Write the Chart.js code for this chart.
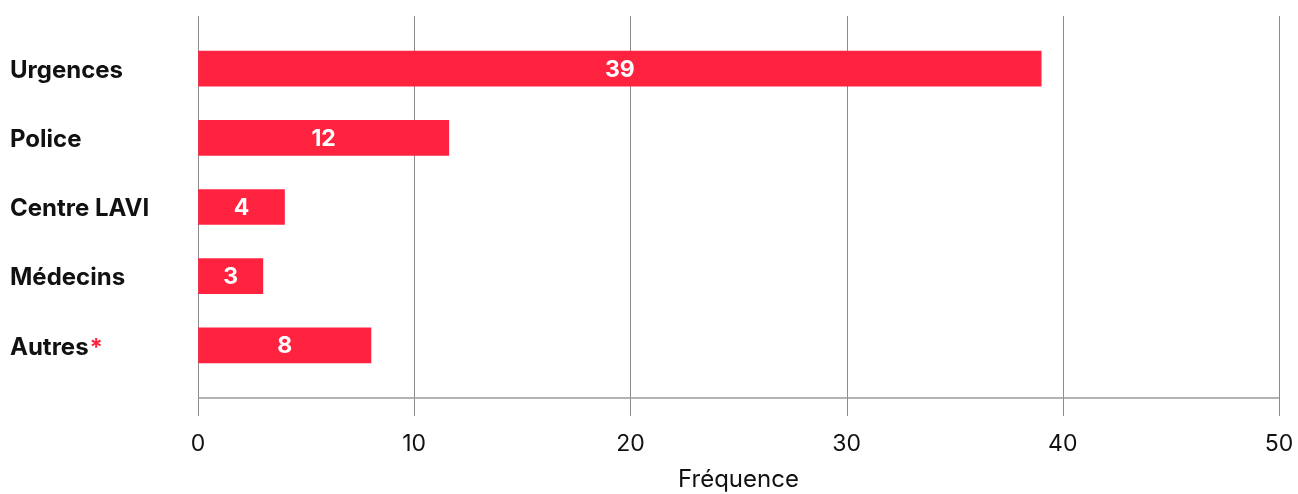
<!DOCTYPE html>
<html>
<head>
<meta charset="utf-8">
<script src="https://cdn.jsdelivr.net/npm/chart.js@4.4.1/dist/chart.umd.min.js"></script>
<style>
  html, body { margin: 0; padding: 0; background: #fff; }
  #wrap { width: 1298px; height: 494px; }
</style>
</head>
<body>
<div id="wrap"><canvas id="chart" width="1298" height="494"></canvas></div>
<script>
const categories = ["Urgences", "Police", "Centre LAVI", "Médecins", "Autres"];
const frequencies = [39, 11.6, 4, 3, 8];
const xTicks = [0, 10, 20, 30, 40, 50];
const starred = ["Autres"];

const RED = "#ff2340";
const GRID = "#8c8c8c";
const FONT = "Inter, 'Noto Sans', sans-serif";

// grille verticale + ligne d'axe, plus longues que la zone du graphique
const gridPlugin = {
  id: "grid",
  beforeDatasetsDraw(chart) {
    const { ctx, chartArea, scales } = chart;
    const x = scales.x;
    ctx.save();
    ctx.strokeStyle = GRID;
    ctx.lineWidth = 1;
    xTicks.forEach(v => {
      const px = Math.round(x.getPixelForValue(v)) + 0.5;
      ctx.beginPath();
      ctx.moveTo(px, chartArea.top - 18);
      ctx.lineTo(px, chartArea.bottom + 36);
      ctx.stroke();
    });
    ctx.strokeStyle = "#9a9a9a";
    ctx.lineWidth = 1.5;
    const ay = chartArea.bottom + 18;
    ctx.beginPath();
    ctx.moveTo(x.getPixelForValue(0), ay);
    ctx.lineTo(x.getPixelForValue(50), ay);
    ctx.stroke();
    ctx.restore();
  }
};

// valeurs dans les barres + astérisque rouge
const labelPlugin = {
  id: "labels",
  afterDatasetsDraw(chart) {
    const { ctx, scales } = chart;
    const meta = chart.getDatasetMeta(0);
    ctx.save();
    ctx.font = "bold 23px " + FONT;
    ctx.fillStyle = "#fff";
    ctx.textAlign = "center";
    ctx.textBaseline = "middle";
    meta.data.forEach((bar, i) => {
      const cx = (bar.base + bar.x) / 2;
      ctx.fillText(String(Math.round(frequencies[i])), cx, bar.y + 1);
    });
    const y = scales.y;
    ctx.font = "bold 24px " + FONT;
    ctx.textAlign = "left";
    ctx.fillStyle = RED;
    categories.forEach((c, i) => {
      if (!starred.includes(c)) return;
      const w = ctx.measureText(c).width;
      ctx.fillText("*", 10 + w + 1, y.getPixelForTick(i) + 3);
    });
    ctx.restore();
  }
};

new Chart(document.getElementById("chart"), {
  type: "bar",
  data: {
    labels: categories,
    datasets: [{
      data: frequencies,
      backgroundColor: RED,
      borderWidth: 0,
      barThickness: 35
    }]
  },
  options: {
    indexAxis: "y",
    responsive: false,
    animation: false,
    layout: { padding: { left: 10, right: 19, top: 34, bottom: 0 } },
    plugins: { legend: { display: false }, tooltip: { enabled: false } },
    scales: {
      x: {
        min: 0,
        max: 50,
        afterBuildTicks: s => { s.ticks = xTicks.map(v => ({ value: v })); },
        afterFit: s => { s.height = 114; },
        grid: {
          display: true,
          drawOnChartArea: false,
          drawTicks: true,
          tickLength: 50,
          color: "rgba(0,0,0,0)"
        },
        border: { display: false },
        ticks: {
          padding: 0,
          color: "#111",
          font: { family: FONT, size: 23 }
        },
        title: {
          display: true,
          text: "Fréquence",
          color: "#111",
          padding: { top: 0, bottom: 0 },
          font: { family: FONT, size: 24 }
        }
      },
      y: {
        afterFit: s => { s.width = 188; },
        grid: { display: false, drawTicks: false },
        border: { display: false },
        ticks: {
          crossAlign: "far",
          padding: 0,
          labelOffset: 2,
          color: "#111",
          font: { family: FONT, size: 24, weight: "bold" }
        }
      }
    }
  },
  plugins: [gridPlugin, labelPlugin]
});
</script>
</body>
</html>
